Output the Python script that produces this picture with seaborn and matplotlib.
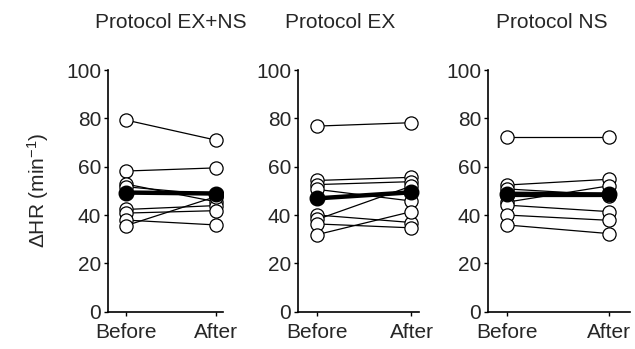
import numpy as np
import pandas as pd
import seaborn as sns
import matplotlib.pyplot as plt

# values (beats per minute)
titles = ["Protocol EX+NS", "Protocol EX", "Protocol NS"]
tick_labels = ["Before", "After"]

exns_before = [79.3, 58.2, 52.8, 51.7, 42.3, 40.8, 37.9, 35.6]
exns_after = [71.0, 59.5, 45.5, 48.3, 43.9, 41.8, 35.9, 47.6]
ex_before = [76.8, 54.3, 52.6, 50.6, 40.0, 38.2, 36.3, 31.9]
ex_after = [78.2, 55.6, 53.8, 45.8, 36.9, 52.0, 34.7, 41.4]
ns_before = [72.4, 52.4, 50.8, 47.8, 45.3, 44.1, 40.0, 35.9]
ns_after = [72.4, 54.8, 48.3, 47.8, 52.1, 41.4, 37.8, 32.3]

mean_before = [49.3, 46.9, 48.8]
mean_after = [48.9, 49.4, 48.5]

sns.set_style("ticks")
plt.rcParams["font.family"] = ["Liberation Sans", "DejaVu Sans"]
plt.rcParams["mathtext.fontset"] = "custom"
plt.rcParams["mathtext.rm"] = "Liberation Sans"
plt.rcParams["mathtext.it"] = "Liberation Sans:italic"

W, H = 635, 349
fig = plt.figure(figsize=(W / 100, H / 100), dpi=100)

# panel geometry in pixels: left spine, right end, x limits
panels = [(108, 223, -0.2, 1.08), (298, 419, -0.206, 1.08), (488, 630, -0.18, 1.2)]
title_x = [171, 340, 552]
y0_px, y100_px = 311.7, 70.0

data = [(exns_before, exns_after), (ex_before, ex_after), (ns_before, ns_after)]

for i, (before, after) in enumerate(data):
    left, right, lo, hi = panels[i]
    ax = fig.add_axes([left / W, (H - y0_px) / H, (right - left) / W, (y0_px - y100_px) / H])
    n = len(before)
    df = pd.DataFrame({
        "subject": list(range(n)) * 2,
        "time": [0] * n + [1] * n,
        "hr": before + after,
    })
    sns.lineplot(data=df, x="time", y="hr", units="subject", estimator=None, ax=ax,
                 color="black", linewidth=0.9, marker="o", markersize=9.5,
                 markerfacecolor="white", markeredgecolor="black", markeredgewidth=0.9,
                 sort=False, legend=False)
    mdf = pd.DataFrame({"time": [0, 1], "hr": [mean_before[i], mean_after[i]]})
    sns.lineplot(data=mdf, x="time", y="hr", ax=ax, color="black", linewidth=3.2,
                 marker="o", markersize=10.5, markerfacecolor="black",
                 markeredgecolor="black", markeredgewidth=1, legend=False)
    ax.set_xlim(lo, hi)
    ax.set_ylim(0, 100)
    ax.set_xticks([0, 1])
    ax.set_xticklabels(tick_labels)
    ax.set_yticks([0, 20, 40, 60, 80, 100])
    ax.set_xlabel("")
    ax.set_ylabel("")
    ax.tick_params(axis="both", labelsize=15, width=1, length=3, direction="out", color="black")
    ax.tick_params(axis="x", pad=5)
    ax.tick_params(axis="y", pad=2)
    for s in ["left", "bottom"]:
        ax.spines[s].set_linewidth(1.2)
        ax.spines[s].set_color("black")
    sns.despine(ax=ax)
    fig.text(title_x[i] / W, 1 - 23 / H, titles[i], ha="center", va="center", fontsize=15)

fig.text(38 / W, 1 - 190 / H, r"$\Delta$HR (min$^{-1}$)", rotation=90,
         ha="center", va="center", fontsize=15)

fig.savefig("out.png", dpi=100)
